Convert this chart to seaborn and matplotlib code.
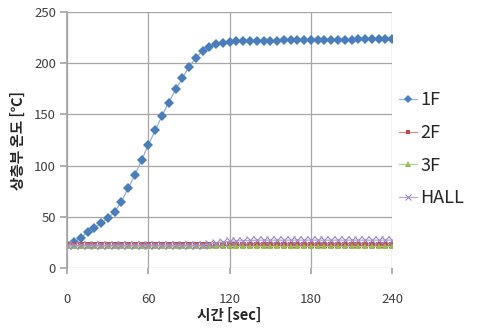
import numpy as np
import pandas as pd
import matplotlib
matplotlib.use("Agg")
import matplotlib.pyplot as plt
import seaborn as sns

time = list(range(0, 241, 5))
f1 = [22, 24.8, 29.4, 34.6, 39.1, 43.4, 48.4, 54.7, 64.8, 77.7, 91, 105.4, 120.4,
      134.4, 148.7, 161.7, 174.5, 185.3, 196.7, 205.5, 212, 216.3, 218.9, 220.2,
      221.2, 221.5, 221.6, 221.8, 222, 222, 222.1, 222.3, 222.4, 222.5, 222.6,
      222.7, 222.8, 222.9, 223, 223, 223.1, 223.2, 223.3, 223.4, 223.5, 223.6,
      223.8, 223.9, 224.2]
f2 = [22.6] * 49
f3 = [21.6] * 49
hall = [22.2] * 21 + [23.3, 24.3, 25.2, 25.8, 26.2, 26.5, 26.7, 26.9] + [27.0] * 20
series_names = ["1F", "2F", "3F", "HALL"]
xticks = [0, 60, 120, 180, 240]
yticks = [0, 50, 100, 150, 200, 250]

df = pd.DataFrame({"time": time, "1F": f1, "2F": f2, "3F": f3, "HALL": hall})
long = df.melt(id_vars="time", var_name="series", value_name="temp")

sns.set_theme(style="white")
plt.rcParams["font.family"] = ["Noto Sans CJK KR", "DejaVu Sans"]

fig = plt.figure(figsize=(4.8, 3.31), dpi=100)
ax = fig.add_axes([0.140, 0.191, 0.677, 0.772])

colors = {"1F": "#4A7EBB", "2F": "#BE4B48", "3F": "#98B954", "HALL": "#9E87C6"}
linecolors = {"1F": "#8FAFD8", "2F": "#D08A88", "3F": "#B5CE8C", "HALL": "#B9A9D6"}
markers = {"1F": "D", "2F": "s", "3F": "^", "HALL": "x"}
sizes = {"1F": 5.3, "2F": 4.5, "3F": 5, "HALL": 6}

for name in series_names:
    sub = long[long["series"] == name]
    sns.lineplot(data=sub, x="time", y="temp", ax=ax, color=linecolors[name],
                 marker=markers[name], markersize=sizes[name], linewidth=0.9,
                 markerfacecolor=colors[name],
                 markeredgewidth=0.8 if name == "HALL" else 0,
                 markeredgecolor=colors[name], label=name)

ax.set_xlim(0, 240)
ax.set_ylim(0, 250)
ax.set_xticks(xticks)
ax.set_yticks(yticks)
ax.grid(True, color="#A6A6A6", linewidth=0.9)
for s in ["top", "right", "bottom"]:
    ax.spines[s].set_visible(False)
ax.spines["left"].set_color("#A6A6A6")
ax.tick_params(axis="y", which="both", left=True, length=5, color="#A6A6A6",
               labelsize=9.5, labelcolor="#404040", pad=3)
ax.tick_params(axis="x", which="both", bottom=True, length=4, color="#A6A6A6",
               labelsize=9.5, labelcolor="#404040", pad=14)
ax.set_xlabel("시간 [sec]", fontsize=10.5, fontweight="bold", labelpad=1)
ax.set_ylabel("상층부 온도 [℃]", fontsize=10.5, fontweight="bold", labelpad=6)

leg = ax.legend(loc="upper left", bbox_to_anchor=(1.0, 0.72), frameon=False,
                fontsize=13, handlelength=1.0, handletextpad=0.15,
                labelspacing=0.82, borderaxespad=0, markerscale=0.75)

fig.savefig("out.png", dpi=100)
